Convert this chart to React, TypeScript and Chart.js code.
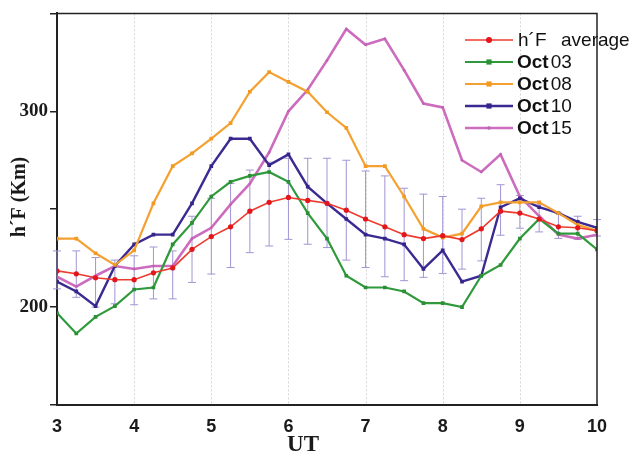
import React, { useEffect, useRef } from "react";
import { Chart, registerables } from "chart.js";
Chart.register(...registerables);

const UT = [3, 3.25, 3.5, 3.75, 4, 4.25, 4.5, 4.75, 5, 5.25, 5.5, 5.75, 6, 6.25, 6.5, 6.75, 7, 7.25, 7.5, 7.75, 8, 8.25, 8.5, 8.75, 9, 9.25, 9.5, 9.75, 10];
const AVG = [218.5, 217, 215, 214, 214, 217.5, 220, 229.5, 236, 241, 249, 253.5, 256, 254.5, 253, 249.5, 245, 241, 237, 235, 236.5, 234.5, 240, 249, 248, 245, 241, 240.5, 239];
const AVG_HIGH = [228.7, 228.7, 225.3, 224, 226.2, 230.7, 228.7, 246.4, 255.6, 263.2, 270, 274, 276, 276, 276, 275, 269.5, 267, 260.7, 257.7, 256.5, 250, 255.6, 262.5, 257, 252.3, 248, 246.4, 244.7];
const AVG_LOW = [209.3, 205, 200, 201.7, 201.2, 204.2, 204.2, 212.6, 216.9, 220.2, 227.8, 231.2, 234.6, 232.1, 230.4, 224, 220.2, 215.5, 213.5, 215.2, 217.2, 219.4, 223.6, 236.7, 240.3, 238.4, 235.1, 234.6, 236.3];
const OCT03 = [197, 186.5, 195, 200.5, 209, 210, 232, 243, 256.5, 264, 267, 269, 264, 248, 235, 216, 210, 210, 208, 202, 202, 200, 216, 221.5, 235, 245, 237.5, 237.5, 229.5];
const OCT08 = [235, 235, 227.5, 221.5, 229, 253, 272, 278.5, 286, 294, 310, 320, 315, 310, 299.5, 291.5, 272, 272, 256.5, 240, 235.5, 237.5, 251.5, 253.5, 253.5, 253.5, 248, 242, 239];
const OCT10 = [213, 208, 200.5, 221, 232, 237, 237, 253, 272, 286, 286, 272.5, 278, 261.5, 253, 245, 237, 235, 232, 219.5, 229, 213, 216, 251, 255.5, 251, 248, 243.5, 240.5];
const OCT15 = [215.5, 210.5, 216, 221, 219.5, 221, 221, 235, 240.5, 252.5, 263, 279, 300, 311, 326, 342, 334, 337, 321, 304, 302, 275, 269, 278, 256.5, 246.5, 237, 235, 237];

const Y_LABELS = [200, 300];
const X_GRID = [4, 5, 6, 7, 8, 9];

const SERIES = [
  { bold: "", first: "h´F", rest: "average", data: AVG, color: "#ee3b2f", point: "#e3161b", style: "circle", r: 2.6, w: 1.6 },
  { bold: "Oct", first: "", rest: "03", data: OCT03, color: "#2f9a3b", point: "#2a8f35", style: "rect", r: 2.6, w: 2.2 },
  { bold: "Oct", first: "", rest: "08", data: OCT08, color: "#f4a132", point: "#f29a22", style: "rect", r: 2.6, w: 2.2 },
  { bold: "Oct", first: "", rest: "10", data: OCT10, color: "#3b2a92", point: "#36248a", style: "rect", r: 2.6, w: 2.4 },
  { bold: "Oct", first: "", rest: "15", data: OCT15, color: "#cc6cbf", point: "#c060b4", style: "circle", r: 1.3, w: 2.6 },
];

const gridPlugin = {
  id: "dotGrid",
  beforeDatasetsDraw(chart: any) {
    const { ctx, chartArea, scales } = chart;
    const x = scales.x;
    ctx.save();
    ctx.strokeStyle = "#d4d4d4";
    ctx.lineWidth = 1;
    ctx.setLineDash([2, 2]);
    X_GRID.forEach((v) => {
      const px = Math.round(x.getPixelForValue(v)) + 0.5;
      ctx.beginPath();
      ctx.moveTo(px, chartArea.top);
      ctx.lineTo(px, chartArea.bottom);
      ctx.stroke();
    });
    ctx.setLineDash([]);
    const y = scales.y;
    ctx.strokeStyle = "#a394d4";
    ctx.lineWidth = 1;
    UT.forEach((t, i) => {
      const px = x.getPixelForValue(t);
      const top = y.getPixelForValue(AVG_HIGH[i]);
      const bot = y.getPixelForValue(AVG_LOW[i]);
      ctx.beginPath();
      ctx.moveTo(px, top);
      ctx.lineTo(px, bot);
      ctx.moveTo(px - 4, top);
      ctx.lineTo(px + 4, top);
      ctx.moveTo(px - 4, bot);
      ctx.lineTo(px + 4, bot);
      ctx.stroke();
    });
    ctx.restore();
  },
  afterDraw(chart: any) {
    const { ctx, chartArea } = chart;
    ctx.save();
    ctx.strokeStyle = "#222";
    ctx.lineWidth = 1.5;
    ctx.beginPath();
    ctx.moveTo(chartArea.left, chartArea.top);
    ctx.lineTo(chartArea.right, chartArea.top);
    ctx.lineTo(chartArea.right, chartArea.bottom);
    ctx.stroke();
    ctx.fillStyle = "#1a1a1a";
    ctx.textAlign = "center";
    ctx.textBaseline = "middle";
    ctx.font = 'bold 23px "Liberation Serif"';
    ctx.fillText("UT", 303, 445);
    ctx.translate(20, 197);
    ctx.rotate(-Math.PI / 2);
    ctx.font = 'bold 20px "Liberation Serif"';
    ctx.fillText("h´F (Km)", 0, 0);
    ctx.setTransform(1, 0, 0, 1, 0, 0);
    const rows = [40, 62, 84, 106, 128];
    SERIES.forEach((s, i) => {
      const yy = rows[i];
      ctx.strokeStyle = s.color;
      ctx.lineWidth = s.w;
      ctx.beginPath();
      ctx.moveTo(465, yy);
      ctx.lineTo(513, yy);
      ctx.stroke();
      ctx.fillStyle = s.point;
      if (s.style === "rect") {
        ctx.fillRect(489 - 2.6, yy - 2.6, 5.2, 5.2);
      } else {
        ctx.beginPath();
        ctx.arc(489, yy, s.r + 0.4, 0, Math.PI * 2);
        ctx.fill();
      }
      ctx.fillStyle = "#111";
      ctx.textAlign = "left";
      ctx.textBaseline = "middle";
      if (s.bold) {
        ctx.font = 'bold 19px "Liberation Sans"';
        ctx.fillText(s.bold, 517, yy + 1);
        const xx = 517 + ctx.measureText(s.bold).width + 2;
        ctx.font = '19px "Liberation Sans"';
        ctx.fillText(s.rest, xx, yy + 1);
      } else {
        ctx.font = '19px "Liberation Sans"';
        ctx.fillText(s.first, 518, yy + 1);
        ctx.fillText(s.rest, 561, yy + 1);
      }
    });
    ctx.restore();
  },
};

export default function App() {
  const ref = useRef<HTMLCanvasElement>(null);
  useEffect(() => {
    document.body.style.margin = "0";
    const canvas = ref.current!;
    const chart = new Chart(canvas, {
      type: "line",
      data: {
        datasets: SERIES.map((s) => ({
          label: s.bold ? s.bold + " " + s.rest : s.first + " " + s.rest,
          data: UT.map((t, i) => ({ x: t, y: s.data[i] })),
          borderColor: s.color,
          backgroundColor: s.point,
          pointBackgroundColor: s.point,
          pointBorderColor: s.point,
          pointStyle: s.style as any,
          pointRadius: s.r,
          pointBorderWidth: 0,
          borderWidth: s.w,
          tension: 0,
          fill: false,
        })),
      },
      options: {
        animation: false,
        responsive: false,
        layout: { padding: { top: 10, right: 38, left: 0, bottom: 0 } },
        plugins: { legend: { display: false }, tooltip: { enabled: false } },
        scales: {
          x: {
            type: "linear",
            min: 3,
            max: 10,
            afterFit: (scale: any) => {
              scale.height = 51;
            },
            ticks: {
              stepSize: 1,
              font: { family: "Liberation Sans", size: 18, weight: "bold" },
              color: "#1a1a1a",
              padding: 3,
            },
            grid: { display: false },
            border: { display: true, color: "#222", width: 2 },
          },
          y: {
            type: "linear",
            min: 150,
            max: 350,
            afterFit: (scale: any) => {
              scale.width = 57;
            },
            ticks: {
              stepSize: 50,
              callback: (v: any) => (Y_LABELS.includes(Number(v)) ? String(v) : ""),
              font: { family: "Liberation Serif", size: 19, weight: "bold" },
              color: "#1a1a1a",
              padding: 2,
            },
            grid: { drawOnChartArea: false, drawTicks: true, tickLength: 7, color: "#222", lineWidth: 1.5 },
            border: { display: true, color: "#222", width: 2 },
          },
        },
      },
      plugins: [gridPlugin],
    });
    return () => chart.destroy();
  }, []);
  return (
    <div style={{ width: 635, height: 456 }}>
      <canvas ref={ref} width={635} height={456} />
    </div>
  );
}
